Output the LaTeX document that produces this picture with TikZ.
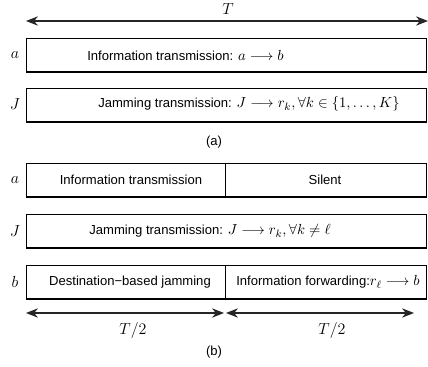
\documentclass[tikz,border=0pt]{standalone}
\usepackage{amsmath}
\usepackage{amssymb}
\usepackage{fontspec}
\newfontfamily\helv{Liberation Sans}
\usepackage{tikz}
\usetikzlibrary{positioning, arrows.meta}

\newcommand{\mth}[1]{{\fontsize{11}{13}\selectfont$#1$}}

\tikzset{
	slot/.style={draw, line width=0.9pt, minimum height=25pt, inner sep=0pt, anchor=north west},
	full/.style={slot, minimum width=300pt},
	txt/.style={font=\helv\fontsize{9.8}{12}\selectfont, inner sep=0pt},
	lbl/.style={font=\large, inner sep=0pt},
	span/.style={<->, line width=0.8pt, draw=black!85}
}

\begin{document}
\begin{tikzpicture}[x=0.75pt, y=-0.75pt, >={Stealth[length=9pt, width=7pt]}]
		\useasboundingbox (0,0) rectangle (428,367);
		
		% Part (a)
		\coordinate (tl) at (26,21);
		\coordinate (tr) at (428,21);
		\draw[span] (tl) -- (tr);
		\node[lbl] (T) at (228,9) {$T$};
		
		\node[full] (ainfo) at (26,38) {};
		\node[full] (ajam) at (26,88) {};
		\node[lbl] (alabA) at (15,55) {$a$};
		\node[lbl] (alabJ) at (15,104) {$J$};
		\node[txt, anchor=west] (ainfotxt) at (87,55) {Information transmission: \mth{a \longrightarrow b}};
		\node[txt, anchor=west] (ajamtxt) at (98,104) {Jamming transmission: \mth{J \longrightarrow r_k, \forall k \in \{1,\ldots,K\}}};
		\node[txt] (capa) at (214,142) {(a)};
		
		% Part (b)
		\node[slot, minimum width=149.25pt] (binfo) at (26,163) {};
		\node[slot, minimum width=150.75pt] (bsilent) at (225,163) {};
		\node[full] (bjam) at (26,214) {};
		\node[slot, minimum width=149.25pt] (bdest) at (26,265) {};
		\node[slot, minimum width=150.75pt] (bfwd) at (225,265) {};
		
		\node[lbl] (blabA) at (15,180) {$a$};
		\node[lbl] (blabJ) at (15,231) {$J$};
		\node[lbl] (blabB) at (15,282) {$b$};
		
		\node[txt] (binfotxt) at (131,180) {Information transmission};
		\node[txt] (bsilenttxt) at (325,180) {Silent};
		\node[txt] (bjamtxt) at (210,231) {Jamming transmission: \mth{J \longrightarrow r_k, \forall k \neq \ell}};
		\node[txt] (bdesttxt) at (130,282) {Destination−based jamming};
		\node[txt] (bfwdtxt) at (328,282) {Information forwarding:\mth{r_\ell \longrightarrow b}};
		
		% Half-slot arrows
		\coordinate (hl) at (26,313);
		\coordinate (hm) at (224,313);
		\coordinate (hn) at (226,313);
		\coordinate (hr) at (414,313);
		\draw[span] (hl) -- (hm);
		\draw[span] (hn) -- (hr);
		\node[lbl] (halfA) at (133,330) {$T/2$};
		\node[lbl] (halfB) at (332,330) {$T/2$};
		
		\node[txt] (capb) at (214,352) {(b)};
	\end{tikzpicture}
\end{document}
